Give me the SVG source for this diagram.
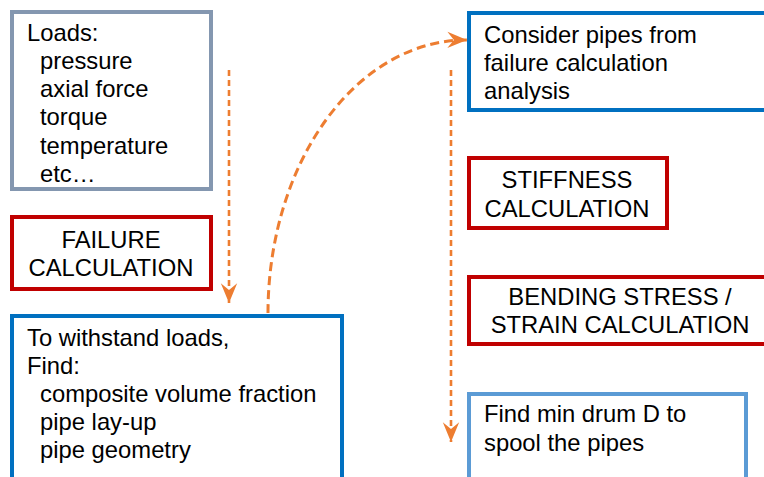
<svg xmlns="http://www.w3.org/2000/svg" width="764" height="477" viewBox="0 0 764 477">
<defs>
<style>
.box{fill:#fff;stroke-width:4}
.gray{stroke:#8497B0}
.red{stroke:#C00000}
.blue{stroke:#0070C0}
.lblue{stroke:#5B9BD5}
text{font-family:"Liberation Sans",Arial,sans-serif;font-size:23.8px;fill:#000}
.c{text-anchor:middle}
.dash{fill:none;stroke:#ED7D31;stroke-width:2.6;stroke-dasharray:6 4}
.dash2{fill:none;stroke:#ED7D31;stroke-width:3;stroke-dasharray:9 5}
</style>
<marker id="ah" markerUnits="userSpaceOnUse" markerWidth="24" markerHeight="24" viewBox="-20 -10 22 20" refX="0" refY="0" orient="auto">
<path d="M0,0 L-18,-7.5 L-12,0 L-18,7.5 Z" fill="#ED7D31"/>
</marker>
</defs>
<g id="connectors">
<path class="dash" d="M229,70 L229,303" marker-end="url(#ah)"/>
<path class="dash2" d="M268,313 A198 273 0 0 1 467,40" marker-end="url(#ah)"/>
<path class="dash" d="M451,70 L451,442" marker-end="url(#ah)"/>
</g>
<g id="loads">
<rect class="box gray" x="12" y="12" width="199" height="177"/>
<text x="27" y="41">Loads:</text>
<text x="40" y="69">pressure</text>
<text x="40" y="97">axial force</text>
<text x="40" y="125">torque</text>
<text x="40" y="154">temperature</text>
<text x="40" y="182">etc…</text>
</g>
<g id="failure">
<rect class="box red" x="12" y="217" width="199" height="72"/>
<text class="c" x="111" y="248">FAILURE</text>
<text class="c" x="111" y="276">CALCULATION</text>
</g>
<g id="withstand">
<rect class="box blue" x="12" y="316" width="330" height="175"/>
<text x="27" y="346">To withstand loads,</text>
<text x="27" y="374">Find:</text>
<text x="40" y="402">composite volume fraction</text>
<text x="40" y="430">pipe lay-up</text>
<text x="40" y="458">pipe geometry</text>
</g>
<g id="consider">
<rect class="box blue" x="469" y="13" width="310" height="97"/>
<text x="484" y="43">Consider pipes from</text>
<text x="484" y="71">failure calculation</text>
<text x="484" y="99">analysis</text>
</g>
<g id="stiffness">
<rect class="box red" x="469" y="158" width="198" height="70"/>
<text class="c" x="567" y="188">STIFFNESS</text>
<text class="c" x="567" y="217">CALCULATION</text>
</g>
<g id="bending">
<rect class="box red" x="469" y="277" width="310" height="67"/>
<text class="c" x="620" y="305">BENDING STRESS /</text>
<text class="c" x="620" y="333">STRAIN CALCULATION</text>
</g>
<g id="drum">
<rect class="box lblue" x="469" y="394" width="277" height="100"/>
<text x="484" y="422">Find min drum D to</text>
<text x="484" y="451">spool the pipes</text>
</g>
</svg>
